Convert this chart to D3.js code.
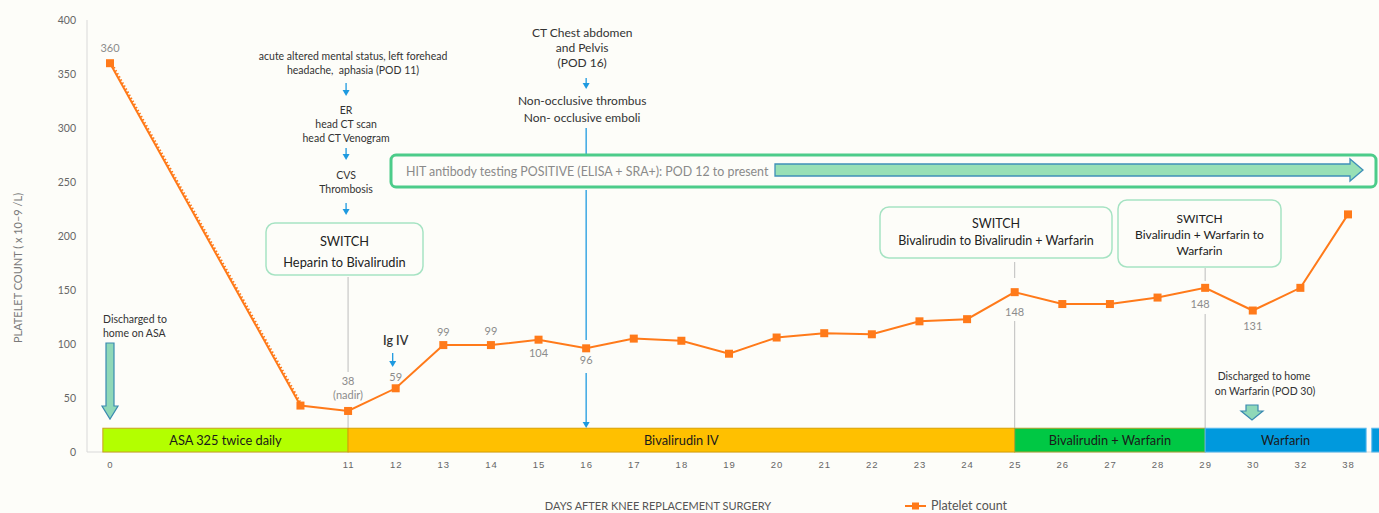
<!DOCTYPE html>
<html><head><meta charset="utf-8">
<script src="https://cdn.jsdelivr.net/npm/d3@7/dist/d3.min.js"></script>
<style>
html,body{margin:0;padding:0;background:#fdfdf9;}
svg{display:block;font-family:Lato,"Open Sans",sans-serif;}
text{white-space:pre;}
</style></head><body>
<svg id="c" width="1379" height="513"></svg>
<script>
// ---- data ----
const categories = ["0","","","","","11","12","13","14","15","16","17","18","19","20","21","22","23","24","25","26","27","28","29","30","32","38"];
const platelets  = [360,null,null,null,43,38,59,99,99,104,96,105,103,91,106,110,109,121,123,148,137,137,143,152,131,152,220];
const yTicks = [0,50,100,150,200,250,300,350,400];
const labelIdx  = [0,5,6,7,8,9,10,19,23,24];
const labelText = ["360","38","59","99","99","104","96","148","148","131"];
const therapyNames = ["ASA 325 twice daily","Bivalirudin IV","Bivalirudin + Warfarin","Warfarin",""];
const therapyStart = [-0.15,5,19,23,26.5];
const therapyEnd   = [5,19,23,26.38,27];
const therapyLevel = 22;

// ---- scales ----
const svg = d3.select("#c");
const x = d3.scaleLinear().domain([0,26]).range([110,1348]);
const y = d3.scaleLinear().domain([0,400]).range([452,20]);
const gray="#bdbdbd", blue="#1e9ae0", orange="#ff7a1a";

// axes lines
svg.append("line").attr("x1",87).attr("x2",87).attr("y1",y(400)).attr("y2",y(0)).attr("stroke","#d9d9d9");
svg.append("line").attr("x1",87).attr("x2",1379).attr("y1",y(0)).attr("y2",y(0)).attr("stroke","#d9d9d9");
const yAxis = d3.axisLeft(y).tickValues(yTicks).tickSize(0).tickPadding(0);
const gy = svg.append("g").attr("transform","translate(76,0)").call(yAxis);
gy.select(".domain").remove();
gy.selectAll("text").attr("font-size",10.5).attr("fill","#666").attr("font-family","Lato,sans-serif");

const xAxis = d3.axisBottom(x).tickValues(d3.range(categories.length)).tickFormat(i=>categories[i]).tickSize(0).tickPadding(0);
const gx = svg.append("g").attr("transform","translate(0,462)").call(xAxis);
gx.select(".domain").remove();
gx.selectAll("text").attr("font-size",9.5).attr("fill","#666").attr("letter-spacing","1px").attr("dy","0.6em");

// axis titles
svg.append("text").attr("transform","translate(22,268) rotate(-90)").attr("text-anchor","middle")
  .attr("font-size",11).attr("fill","#7a7a7a").text("PLATELET COUNT ( x 10–9 /L)");
svg.append("text").attr("x",658).attr("y",510).attr("text-anchor","middle").attr("font-size",11).attr("fill","#555")
  .text("DAYS AFTER KNEE REPLACEMENT SURGERY");
// legend
svg.append("line").attr("x1",905).attr("x2",926).attr("y1",506).attr("y2",506).attr("stroke",orange).attr("stroke-width",2);
svg.append("rect").attr("x",912).attr("y",502.5).attr("width",7).attr("height",7).attr("fill",orange);
svg.append("text").attr("x",931).attr("y",510).attr("font-size",12.5).attr("fill","#555").text("Platelet count");

// therapy bars
const therapyFill=["#b3ff00","#ffc000","#00c844","#0099dd","#0099dd"];
const therapyStroke=["#c9a020","#d9a000","#b0a030","#55b8ee","#55b8ee"];
therapyNames.forEach((n,i)=>{
  svg.append("rect").attr("x",x(therapyStart[i])).attr("y",y(therapyLevel))
    .attr("width",x(therapyEnd[i])-x(therapyStart[i])).attr("height",y(0)-y(therapyLevel))
    .attr("fill",therapyFill[i]).attr("stroke",therapyStroke[i]).attr("stroke-width",1);
  if(n) svg.append("text").attr("x",(x(therapyStart[i])+x(therapyEnd[i]))/2).attr("y",y(therapyLevel/2)+4.5)
    .attr("text-anchor","middle").attr("font-size",12.8).attr("fill","#1a1a1a").text(n);
});

// gray vertical guide lines
function vline(x0,y1,y2,c,w){svg.append("line").attr("x1",x0).attr("x2",x0).attr("y1",y1).attr("y2",y2).attr("stroke",c).attr("stroke-width",w||1);}
vline(x(5),277,372,gray); vline(x(5),412,428,gray);
vline(x(19),262,278,gray); vline(x(19),321,428,gray);
vline(x(23),268,281,gray); vline(x(23),314,428,gray);

// small blue arrows
function sArrow(cx,y1,y2){
  vline(cx,y1,y2-5,blue,1.3);
  svg.append("path").attr("d",`M${cx-3.5},${y2-6}L${cx+3.5},${y2-6}L${cx},${y2}Z`).attr("fill",blue);
}
const cxL = x(5)-2;
[["acute altered mental status, left forehead",60,cxL+7],["headache,  aphasia (POD 11)",74,cxL+7],["ER",113.5,cxL],["head CT scan",127.5,cxL],["head CT Venogram",141.5,cxL],["CVS",178.5,cxL],["Thrombosis",192.5,cxL]]
 .forEach(([t,yy,xx])=>svg.append("text").attr("x",xx).attr("y",yy).attr("text-anchor","middle").attr("font-size",10.5).attr("fill","#333").text(t));
sArrow(cxL,83,96); sArrow(cxL,148,160); sArrow(cxL,203,215);

// CT block
const cxC = x(10);
[["CT Chest abdomen",36.5],["and Pelvis",51.5],["(POD 16)",66.5],["Non-occlusive thrombus",104.5],["Non- occlusive emboli",121.5]]
 .forEach(([t,yy])=>svg.append("text").attr("x",cxC-4).attr("y",yy).attr("text-anchor","middle").attr("font-size",12).attr("fill","#333").text(t));
sArrow(cxC,78,89);
vline(cxC,128,158,blue,1.3); vline(cxC,190,340,blue,1.3);
sArrow(cxC,373,428);

// Ig IV
svg.append("text").attr("x",x(6)).attr("y",345).attr("text-anchor","middle").attr("font-size",12.5).attr("font-weight",600).attr("fill","#333").text("Ig IV");
sArrow(x(6)-3,353,367);

// switch boxes
function box(x0,y0,w,h,lines,fs,lh,ty){
  svg.append("rect").attr("x",x0).attr("y",y0).attr("width",w).attr("height",h).attr("rx",9)
    .attr("fill","#fdfdf9").attr("stroke","#a6e3c3").attr("stroke-width",1.5);
  lines.forEach((t,i)=>svg.append("text").attr("x",x0+w/2).attr("y",ty+i*lh).attr("text-anchor","middle")
    .attr("font-size",fs).attr("fill","#222").text(t));
}
box(266,223,157,52,["SWITCH","Heparin to Bivalirudin"],12.8,21,246);
box(880,207,232,51,["SWITCH","Bivalirudin to Bivalirudin + Warfarin"],12.5,17,227.5);
box(1118,200,163,67,["SWITCH","Bivalirudin + Warfarin to","Warfarin"],12,16,222.5);

// HIT box
svg.append("rect").attr("x",391).attr("y",155).attr("width",985).attr("height",32).attr("rx",5)
  .attr("fill","#fdfdf9").attr("stroke","#4ccc8a").attr("stroke-width",3);
svg.append("text").attr("x",406).attr("y",175.5).attr("font-size",12.4).attr("fill","#8a8a8a")
  .text("HIT antibody testing POSITIVE (ELISA + SRA+): POD 12 to present");
svg.append("path").attr("d","M775,164L1350,164L1350,159L1363,170L1350,181L1350,176L775,176Z")
  .attr("fill","#98e0b6").attr("stroke","#3f90b8").attr("stroke-width",1.3);

// discharge arrows
function bigArrow(cx,y1,y2,hw,bw,hh){
  svg.append("path").attr("d",`M${cx-bw},${y1}L${cx+bw},${y1}L${cx+bw},${y2-hh}L${cx+hw},${y2-hh}L${cx},${y2}L${cx-hw},${y2-hh}L${cx-bw},${y2-hh}Z`)
    .attr("fill","#8fd8b8").attr("stroke","#3a8ab0").attr("stroke-width",1.2);
}
bigArrow(x(0),343,419,8,4,13);
bigArrow(1252,405,420,11,6,9);
svg.append("text").attr("x",103).attr("y",323).attr("font-size",10.5).attr("fill","#333").text("Discharged to");
svg.append("text").attr("x",103).attr("y",336.5).attr("font-size",10.5).attr("fill","#333").text("home on ASA");
svg.append("text").attr("x",1264).attr("y",380).attr("text-anchor","middle").attr("font-size",10.5).attr("fill","#333").text("Discharged to home");
svg.append("text").attr("x",1265).attr("y",395).attr("text-anchor","middle").attr("font-size",10.5).attr("fill","#333").text("on Warfarin (POD 30)");

// platelet line
const pts = platelets.map((v,i)=>({i,v})).filter(d=>d.v!==null);
const line = d3.line().x(d=>x(d.i)).y(d=>y(d.v));
svg.append("path").datum(pts.slice(0,2)).attr("d",line).attr("fill","none").attr("stroke",orange)
  .attr("stroke-width",2.5).attr("stroke-dasharray","1.5,2").attr("transform","translate(2,1)");
svg.append("path").datum(pts).attr("d",line).attr("fill","none").attr("stroke",orange).attr("stroke-width",2);
svg.selectAll("rect.m").data(pts).enter().append("rect").attr("class","m")
  .attr("x",d=>x(d.i)-4).attr("y",d=>y(d.v)-4).attr("width",8).attr("height",8).attr("fill",orange);

// data labels
const labelDy = [-11,-26,-7,-9,-10,17,16,24,20,19];
const labelDx = [0,0,0,0,0,0,0,0,-5,0];
labelIdx.forEach((idx,k)=>{
  svg.append("text").attr("x",x(idx)+labelDx[k]).attr("y",y(platelets[idx])+labelDy[k]).attr("text-anchor","middle")
    .attr("font-size",11).attr("fill","#8c8c8c").text(labelText[k]);
});
svg.append("text").attr("x",x(5)).attr("y",y(platelets[5])-12).attr("text-anchor","middle")
  .attr("font-size",11).attr("fill","#8c8c8c").text("(nadir)");
</script>
</body></html>
